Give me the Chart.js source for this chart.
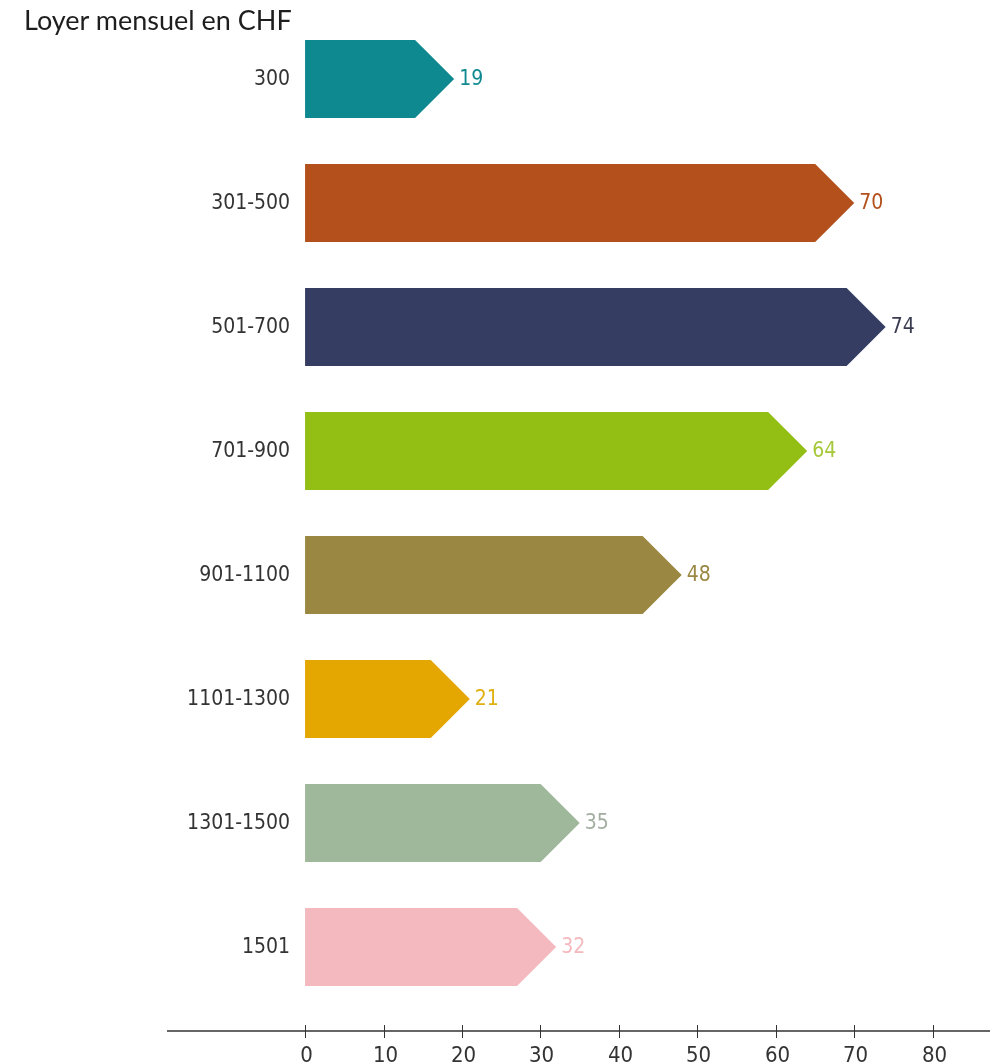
<!DOCTYPE html>
<html>
<head>
<meta charset="utf-8">
<script src="https://cdn.jsdelivr.net/npm/chart.js@4/dist/chart.umd.min.js"></script>
<style>
  body { margin: 0; background: #fff; }
  #wrap { position: relative; width: 1005px; height: 1064px; }
  #title {
    position: absolute; left: 24px; top: 3px;
    font-family: Lato, 'Open Sans', sans-serif; font-size: 27px; color: #1e1e1e;
  }
</style>
</head>
<body>
<div id="wrap">
  <canvas id="chart"></canvas>
  <div id="title">Loyer mensuel en CHF</div>
</div>
<script>
// données
const categories = ['300', '301-500', '501-700', '701-900', '901-1100', '1101-1300', '1301-1500', '1501'];
const values = [19, 70, 74, 64, 48, 21, 35, 32];
const tickValues = [0, 10, 20, 30, 40, 50, 60, 70, 80];

const barColors = ['#0f8990', '#b3501c', '#363d62', '#93be14', '#9a8741', '#e4a702', '#9fb79b', '#f4b9be'];
const labelColors = ['#108a90', '#b3501c', '#3a3d52', '#a6c83a', '#9a8741', '#e0b010', '#a3ada0', '#f4b9be'];

const condensed = "'DejaVu Sans Condensed', 'DejaVu Sans', sans-serif";

function setFont(ctx, size) {
    ctx.font = size + 'px ' + condensed;
    if ('fontStretch' in ctx) ctx.fontStretch = 'condensed';
}

// barres en forme de flèche + étiquettes
const arrowBars = {
    id: 'arrowBars',
    afterDatasetsDraw(chart) {
        const ctx = chart.ctx;
        const meta = chart.getDatasetMeta(0);
        const xScale = chart.scales.x;
        const zero = xScale.getPixelForValue(0);
        ctx.save();
        meta.data.forEach((bar, i) => {
            const p = bar.getProps(['x', 'y', 'base', 'height'], true);
            const h = p.height / 2;
            ctx.fillStyle = barColors[i];
            ctx.beginPath();
            ctx.moveTo(p.base, p.y - h);
            ctx.lineTo(p.x - h, p.y - h);
            ctx.lineTo(p.x, p.y);
            ctx.lineTo(p.x - h, p.y + h);
            ctx.lineTo(p.base, p.y + h);
            ctx.closePath();
            ctx.fill();

            // valeur
            setFont(ctx, 21);
            ctx.fillStyle = labelColors[i];
            ctx.textAlign = 'left';
            ctx.textBaseline = 'middle';
            ctx.fillText(values[i], p.x + 5, p.y + 1);

            // catégorie
            setFont(ctx, 21);
            ctx.fillStyle = '#333';
            ctx.textAlign = 'right';
            ctx.fillText(categories[i], zero - 15, p.y + 1);
        });

        // axe du bas
        const yAxis = chart.chartArea.bottom + 22;
        ctx.strokeStyle = '#333';
        ctx.lineWidth = 1.5;
        ctx.beginPath();
        ctx.moveTo(chart.chartArea.left, yAxis);
        ctx.lineTo(chart.chartArea.right, yAxis);
        ctx.stroke();
        ctx.lineWidth = 1;
        setFont(ctx, 22);
        ctx.fillStyle = '#333';
        ctx.textAlign = 'center';
        ctx.textBaseline = 'middle';
        tickValues.forEach(v => {
            const px = Math.round(xScale.getPixelForValue(v)) + 0.5;
            ctx.beginPath();
            ctx.moveTo(px, yAxis - 6);
            ctx.lineTo(px, yAxis + 7);
            ctx.stroke();
            ctx.fillText(v, px + 1, yAxis + 25);
        });
        ctx.restore();
    }
};

new Chart(document.getElementById('chart'), {
    type: 'bar',
    data: {
        labels: categories,
        datasets: [{
            data: values,
            backgroundColor: 'rgba(0,0,0,0)',
            barPercentage: 0.63,
            categoryPercentage: 1
        }]
    },
    options: {
        indexAxis: 'y',
        responsive: true,
        maintainAspectRatio: false,
        animation: false,
        layout: { padding: { left: 167, right: 15, top: 17, bottom: 0 } },
        plugins: {
            legend: { display: false },
            tooltip: { enabled: false }
        },
        scales: {
            x: {
                min: -17.6,
                max: 87.3,
                afterBuildTicks: axis => {
                    axis.ticks = tickValues.map(v => ({ value: v }));
                },
                afterFit: axis => { axis.height = 55; },
                grid: { display: false, drawTicks: false },
                border: { display: false },
                ticks: { display: false }
            },
            y: {
                display: false,
                grid: { display: false }
            }
        }
    },
    plugins: [arrowBars]
});
</script>
</body>
</html>
